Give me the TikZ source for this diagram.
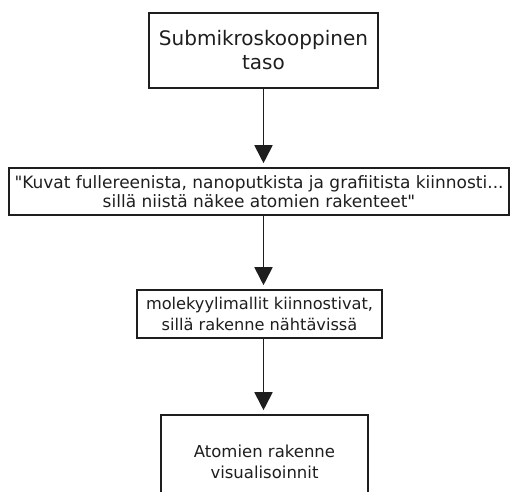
\documentclass[tikz,border=0pt]{standalone}
\usepackage{fontspec}
\setmainfont{DejaVu Sans}
\usetikzlibrary{arrows.meta}
\definecolor{ink}{HTML}{1E1E1E}
\begin{document}
\begin{tikzpicture}[x=1pt,y=-1pt,
  box/.style={draw=ink,line width=1.6pt,text=ink,align=center,inner sep=0pt},
  flow/.style={draw=ink,line width=1.8pt,
    -{Triangle[width=18pt,length=18pt]},shorten >=4pt}]
  \useasboundingbox (0,0) rectangle (513,491);
  \clip (0,0) rectangle (513,491);

  \node[box,minimum width=229pt,minimum height=75pt,
        font=\fontsize{20}{24}\selectfont] (b1) at (263.5,50.5)
    {Submikroskooppinen\\taso};
  \node[box,minimum width=500pt,minimum height=47pt,
        font=\fontsize{17}{19.5}\selectfont] (b2) at (259,191.5)
    {\textquotedbl Kuvat fullereenista, nanoputkista ja grafiitista kiinnosti...\\sillä niistä näkee atomien rakenteet\textquotedbl};
  \node[box,minimum width=245pt,minimum height=48pt,
        font=\fontsize{16.2}{21}\selectfont] (b3) at (259.5,314)
    {molekyylimallit kiinnostivat,\\sillä rakenne nähtävissä};
  \node[box,minimum width=207pt,minimum height=94pt,
        font=\fontsize{16.5}{20.5}\selectfont] (b4) at (264.5,462)
    {Atomien rakenne\\visualisoinnit};

  \draw[flow] (b1.south) -- (b1.south |- b2.north);
  \draw[flow] (b1.south |- b2.south) -- (b1.south |- b3.north);
  \draw[flow] (b1.south |- b3.south) -- (b1.south |- b4.north);
\end{tikzpicture}
\end{document}
